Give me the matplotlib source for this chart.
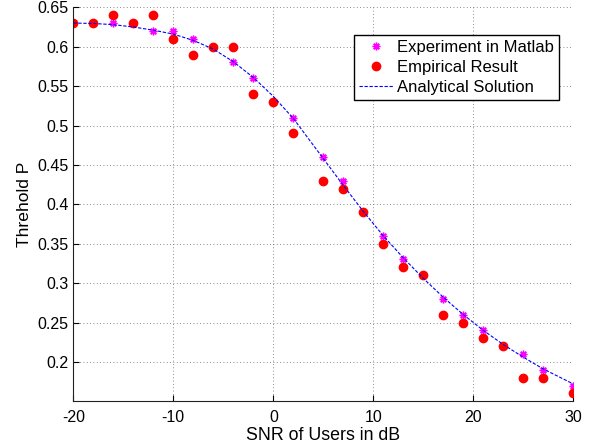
import matplotlib
matplotlib.use("Agg")
import matplotlib.pyplot as plt

plt.rcParams['font.family'] = ['Liberation Sans', 'DejaVu Sans']

snr = [-20, -18, -16, -14, -12, -10, -8, -6, -4, -2, 0, 2, 5, 7, 9, 11, 13, 15, 17, 19, 21, 23, 25, 27, 30]
experiment = [0.63, 0.63, 0.63, 0.63, 0.62, 0.62, 0.61, 0.60, 0.58, 0.56, 0.53, 0.51, 0.46, 0.43, 0.39,
              0.36, 0.33, 0.31, 0.28, 0.26, 0.24, 0.22, 0.21, 0.19, 0.17]
empirical = [0.63, 0.63, 0.64, 0.63, 0.64, 0.61, 0.59, 0.60, 0.60, 0.54, 0.53, 0.49, 0.43, 0.42, 0.39,
             0.35, 0.32, 0.31, 0.26, 0.25, 0.23, 0.22, 0.18, 0.18, 0.16]
analytical = [0.630, 0.6295, 0.628, 0.625, 0.621, 0.616, 0.608, 0.597, 0.581, 0.561, 0.537, 0.509, 0.458,
              0.424, 0.391, 0.360, 0.332, 0.306, 0.282, 0.260, 0.240, 0.222, 0.206, 0.191, 0.172]

xticks = [-20, -10, 0, 10, 20, 30]
yticks = [0.2, 0.25, 0.3, 0.35, 0.4, 0.45, 0.5, 0.55, 0.6, 0.65]
ytick_labels = ['0.2', '0.25', '0.3', '0.35', '0.4', '0.45', '0.5', '0.55', '0.6', '0.65']

fig = plt.figure(figsize=(5.95, 4.48), dpi=100)
ax = fig.add_axes([0.1232, 0.1042, 0.8404, 0.8795])

ax.plot(snr, experiment, linestyle='none', marker=(8, 2, 0), color='magenta',
        markersize=5.5, markeredgewidth=1.0, label='Experiment in Matlab')
ax.plot(snr, empirical, linestyle='none', marker='o', color='red',
        markersize=6, markeredgecolor='red', label='Empirical Result')
ax.plot(snr, analytical, color='blue', linewidth=0.8, dashes=(3, 1.5), label='Analytical Solution')

ax.set_xlim(-20, 30)
ax.set_ylim(0.15, 0.65)
ax.set_xticks(xticks)
ax.set_xticklabels([str(t) for t in xticks])
ax.set_yticks(yticks)
ax.set_yticklabels(ytick_labels)
ax.tick_params(direction='in', labelsize=11.5, length=4, width=0.8, top=False, right=False)
ax.tick_params(axis='x', pad=6.5)
ax.tick_params(axis='y', pad=3.5)

for s in ['top', 'right']:
    ax.spines[s].set_visible(False)
for s in ['left', 'bottom']:
    ax.spines[s].set_linewidth(0.8)
    ax.spines[s].set_color('#222222')

ax.grid(True, linestyle=(0, (1, 3)), color='#666666', linewidth=0.6)

ax.set_xlabel('SNR of Users in dB', fontsize=12.8, labelpad=1)
ax.set_ylabel('Threhold P', fontsize=12.6, labelpad=3.5)

leg = ax.legend(loc='upper right', bbox_to_anchor=(0.971, 0.93), fontsize=12,
                frameon=True, fancybox=False, edgecolor='black', framealpha=1,
                handlelength=2.1, borderpad=0.3, labelspacing=0.3, handletextpad=0.2,
                borderaxespad=0)
leg.get_frame().set_linewidth(1.0)

fig.savefig('out.png', dpi=100)
